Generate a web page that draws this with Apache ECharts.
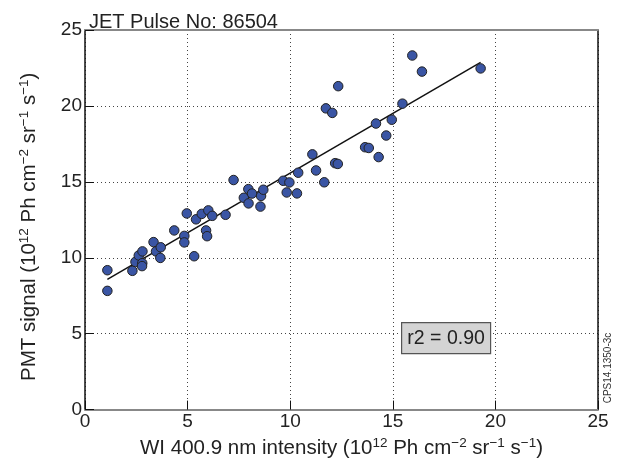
<!DOCTYPE html>
<html><head><meta charset="utf-8">
<script src="https://cdn.jsdelivr.net/npm/echarts@6/dist/echarts.min.js"></script>
<style>html,body{margin:0;padding:0;background:#fff}#c{width:618px;height:464px}</style>
</head><body><div id="c"></div>
<script>
// WI 400.9 nm intensity (x) and PMT signal (y), 10^12 Ph cm^-2 sr^-1 s^-1
const xValues = [1.09, 1.09, 2.31, 2.46, 2.62, 2.80, 2.79, 2.78, 3.34, 3.46, 3.69, 3.67, 4.35, 4.84, 4.84, 4.96, 5.32, 5.41, 5.69, 6.01, 6.20, 5.90, 5.95, 6.85, 7.24, 7.96, 7.74, 8.14, 7.97, 8.58, 8.69, 8.55, 9.66, 9.96, 9.83, 10.33, 10.39, 11.26, 11.08, 11.66, 11.74, 12.05, 12.19, 12.32, 12.34, 13.65, 13.83, 14.18, 14.31, 14.68, 14.95, 15.47, 15.95, 16.42, 19.28];
const yValues = [9.18, 7.82, 9.14, 9.73, 10.15, 10.42, 9.64, 9.45, 11.03, 10.42, 10.69, 9.99, 11.80, 11.44, 11.01, 12.92, 10.10, 12.53, 12.89, 13.12, 12.76, 11.80, 11.42, 12.83, 15.12, 14.52, 13.95, 14.23, 13.58, 14.07, 14.48, 13.37, 15.07, 14.96, 14.30, 14.24, 15.60, 15.75, 16.81, 14.97, 19.84, 19.54, 16.23, 16.18, 21.30, 17.28, 17.23, 18.84, 16.63, 18.05, 19.09, 20.15, 23.32, 22.26, 22.47];
// linear fit line end points
const fitX = [1.09, 19.28];
const fitY = [8.58, 22.87];
const axisMin = 0, axisMax = 25, axisStep = 5;
const titleText = 'JET Pulse No: 86504';
const r2Text = 'r2 = 0.90';
const codeText = 'CPS14.1350-3c';
const xNamePrefix = 'WI 400.9 nm intensity ';
const yNamePrefix = 'PMT signal ';
</script>
<script>
const FONT = '"Liberation Sans", Arial, Helvetica, sans-serif';
const richStyle = {
  n: {fontSize: 20.5, fontFamily: FONT, color: '#222', lineHeight: 24, verticalAlign: 'middle'},
  s: {fontSize: 13.5, fontFamily: FONT, color: '#222', lineHeight: 24, verticalAlign: 'top'}
};
function unitLabel(prefix) {
  return '{n|' + prefix + '(10}{s|12}{n| Ph cm}{s|\u22122}{n| sr}{s|\u22121}{n| s}{s|\u22121}{n|)}';
}
const points = xValues.map((x, i) => [x, yValues[i]]);
const fitLine = fitX.map((x, i) => [x, fitY[i]]);
const chart = echarts.init(document.getElementById('c'), null, {renderer: 'canvas'});
const axisCommon = {
  min: axisMin, max: axisMax, interval: axisStep,
  axisTick: {show: true, inside: true, length: 9, lineStyle: {color: '#111', width: 1}},
  axisLabel: {fontFamily: FONT, fontSize: 19, color: '#222'},
  splitLine: {show: true, lineStyle: {color: '#444', width: 1, type: [1, 3]}},
  nameLocation: 'middle'
};
chart.setOption({
  animation: false,
  backgroundColor: '#fff',
  grid: {left: 85, right: 20, top: 30, bottom: 51, containLabel: false},
  title: {text: titleText, left: 84, top: 7, textStyle: {fontFamily: FONT, fontSize: 20, fontWeight: 'normal', color: '#222'}},
  xAxis: [
    Object.assign({}, axisCommon, {
      type: 'value', position: 'bottom',
      name: unitLabel(xNamePrefix), nameGap: 21,
      nameTextStyle: {rich: richStyle},
      axisLine: {show: true, onZero: false, lineStyle: {color: '#888', width: 2}},
      axisLabel: Object.assign({}, axisCommon.axisLabel, {margin: 3})
    }),
    {type: 'value', position: 'top', min: axisMin, max: axisMax, interval: axisStep,
      axisLine: {show: true, onZero: false, lineStyle: {color: '#888', width: 2}},
      axisTick: {show: false}, axisLabel: {show: false}, splitLine: {show: false}}
  ],
  yAxis: [
    Object.assign({}, axisCommon, {
      type: 'value', position: 'left',
      name: unitLabel(yNamePrefix), nameGap: 44, nameRotate: 90,
      nameTextStyle: {rich: richStyle, padding: [0, 14, 0, 0]},
      axisLine: {show: true, onZero: false, lineStyle: {color: '#111', width: 1.5}},
      axisLabel: Object.assign({}, axisCommon.axisLabel, {margin: 3})
    }),
    {type: 'value', position: 'right', min: axisMin, max: axisMax, interval: axisStep,
      axisLine: {show: true, onZero: false, lineStyle: {color: '#111', width: 1.5}},
      axisTick: {show: false}, axisLabel: {show: false}, splitLine: {show: false}}
  ],
  series: [
    {type: 'line', data: fitLine, xAxisIndex: 0, yAxisIndex: 0, symbol: 'none',
      lineStyle: {color: '#111', width: 1.5}, z: 3, silent: true},
    {type: 'scatter', data: points, xAxisIndex: 0, yAxisIndex: 0, symbol: 'circle', symbolSize: 9.5,
      itemStyle: {color: '#3a55a4', borderColor: '#222', borderWidth: 1, opacity: 1}, z: 4}
  ],
  graphic: [
    {type: 'group', left: 401, top: 322, z: 100, children: [
      {type: 'rect', z: 100, shape: {x: 0, y: 0, width: 89, height: 31}, style: {fill: '#d4d4d4', stroke: '#555', lineWidth: 1.2}},
      {type: 'text', z: 101, x: 44.5, y: 16, style: {text: r2Text, font: '19.5px ' + FONT, fill: '#222', align: 'center', verticalAlign: 'middle'}}
    ]},
    {type: 'text', x: 608, y: 368, rotation: Math.PI / 2,
      style: {text: codeText, font: '10px ' + FONT, fill: '#333', align: 'center', verticalAlign: 'middle'}}
  ]
});
</script>
</body></html>
